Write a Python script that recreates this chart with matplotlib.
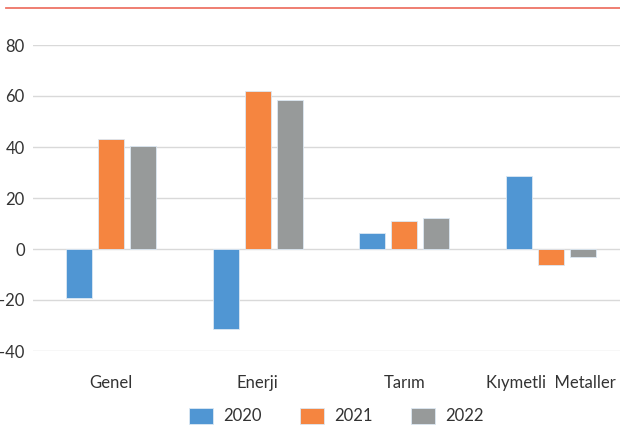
import numpy as np
import matplotlib.pyplot as plt
from matplotlib.lines import Line2D

# categories and series
categories = ["Genel", "Enerji", "Tarım", "Kıymetli  Metaller"]
years = ["2020", "2021", "2022"]
vals_2020 = [-19.2, -31.4, 6.3, 28.6]
vals_2021 = [43.1, 62.0, 11.0, -6.3]
vals_2022 = [40.4, 58.4, 12.2, -3.1]

colors = ["#5096D3", "#F58540", "#979A9A"]

plt.rcParams['font.family'] = ['Lato', 'DejaVu Sans']
plt.rcParams['axes.unicode_minus'] = False

fig = plt.figure(figsize=(6.2, 4.29), dpi=100)
ax = fig.add_axes([33 / 620, 1 - 351 / 429, 587 / 620, (351 - 45) / 429])

x = np.arange(len(categories))
width = 0.177
offset = 0.218
series = [vals_2020, vals_2021, vals_2022]
for i, (vals, year) in enumerate(zip(series, years)):
    ax.bar(x + (i - 1) * offset, vals, width, color=colors[i], label=year,
           edgecolor="#dce8f3", linewidth=0.6, zorder=3)

ax.set_ylim(-40, 80)
ax.set_yticks([-40, -20, 0, 20, 40, 60, 80])
ax.set_xlim(-0.532, 3.47)
ax.set_xticks(x)
ax.set_xticklabels(categories)
ax.grid(axis="y", color="#d9d9d9", linewidth=1, zorder=0)
for s in ax.spines.values():
    s.set_visible(False)
ax.tick_params(axis="both", length=0, labelsize=12, colors="#333333")
ax.tick_params(axis="x", pad=17)
ax.tick_params(axis="y", pad=6)

handles, labels = ax.get_legend_handles_labels()
fig.legend(handles, labels, loc="center", bbox_to_anchor=(336 / 620, 1 - 416 / 429),
           ncol=3, frameon=False, fontsize=12, handlelength=1.45, handleheight=1.1,
           handletextpad=0.6, columnspacing=2.3, labelcolor="#333333",
           borderpad=0, borderaxespad=0)

# red line across the top
fig.add_artist(Line2D([6 / 620, 1], [1 - 7.5 / 429] * 2, color="#EE7466", linewidth=1.3))

fig.savefig("out.png", dpi=100)
